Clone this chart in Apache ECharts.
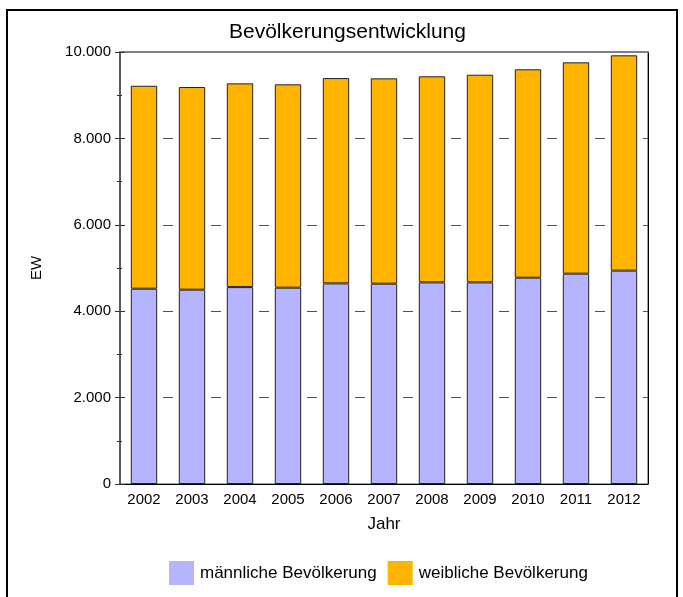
<!DOCTYPE html>
<html>
<head>
<meta charset="utf-8">
<script src="https://cdn.jsdelivr.net/npm/echarts@6/dist/echarts.min.js"></script>
<style>
  html, body { margin: 0; padding: 0; background: #fff; }
  #frame {
    position: absolute; left: 6px; top: 9px; width: 668px; height: 600px;
    border: 2px solid #000; border-bottom: none;
  }
  #chart { position: absolute; left: 0; top: 0; width: 683px; height: 597px; }
</style>
</head>
<body>
<div id="frame"></div>
<div id="chart"></div>
<script>
const years = ['2002', '2003', '2004', '2005', '2006', '2007', '2008', '2009', '2010', '2011', '2012']
const maleValues = [4521, 4498, 4558, 4544, 4644, 4637, 4667, 4667, 4776, 4869, 4939]
const femaleValues = [4698, 4691, 4716, 4707, 4753, 4753, 4770, 4807, 4823, 4892, 4984]
const yMax = 10000
const yStep = 2000

const MALE_COLOR = '#B4B4FF'
const FEMALE_COLOR = '#FFB400'
const FONT = '"Liberation Sans", Arial, sans-serif'

const fmt = (v) => v.toLocaleString('de-DE')

const chart = echarts.init(document.getElementById('chart'))

const option = {
  animation: false,
  textStyle: { fontFamily: FONT, color: '#000' },
  title: {
    text: 'Bevölkerungsentwicklung',
    left: 224,
    top: 17,
    textStyle: { fontFamily: FONT, fontSize: 21, fontWeight: 'normal', color: '#000' },
  },
  grid: {
    left: 120, right: 35, top: 52, bottom: 113,
    show: true, borderColor: '#444', borderWidth: 1,
  },
  legend: {
    left: 169,
    top: 561,
    padding: 0,
    itemWidth: 25,
    itemHeight: 24,
    itemGap: 11,
    icon: 'rect',
    textStyle: { fontFamily: FONT, fontSize: 17, color: '#000', padding: [0, 0, 0, 1] },
    data: [
      { name: 'männliche Bevölkerung', itemStyle: { borderWidth: 0 } },
      { name: 'weibliche Bevölkerung', itemStyle: { borderWidth: 0 } },
    ],
  },
  xAxis: [
    {
      type: 'category',
      data: years,
      name: 'Jahr',
      nameLocation: 'middle',
      nameGap: 32,
      nameTextStyle: { fontSize: 17, color: '#000' },
      axisLine: { onZero: false, lineStyle: { color: '#000', width: 1 } },
      axisTick: { length: 7, lineStyle: { color: '#000' } },
      axisLabel: { interval: 0, fontSize: 15, color: '#000', margin: 8 },
    },
    {
      type: 'category',
      data: years,
      position: 'bottom',
      axisLine: { show: false, onZero: false },
      axisTick: { inside: true, length: 6, lineStyle: { color: '#000' } },
      axisLabel: { show: false },
    },
    {
      type: 'category',
      data: years,
      position: 'top',
      axisLine: { onZero: false, lineStyle: { color: '#808080', width: 2 } },
      axisTick: { show: false },
      axisLabel: { show: false },
    },
  ],
  yAxis: [
    {
      type: 'value',
      min: 0,
      max: yMax,
      interval: yStep,
      name: 'EW',
      nameLocation: 'middle',
      nameGap: 76,
      nameTextStyle: { fontSize: 15, color: '#000' },
      axisLine: { show: true, onZero: false, lineStyle: { color: '#444', width: 1.5 } },
      axisTick: { show: true, length: 5, lineStyle: { color: '#333' } },
      minorTick: { show: true, splitNumber: 2, length: 3, lineStyle: { color: '#333' } },
      axisLabel: { fontSize: 15, color: '#000', margin: 9, formatter: fmt },
      splitLine: {
        show: true,
        lineStyle: { color: '#555', width: 1, type: [10, 38], dashOffset: 5 },
      },
    },
    {
      type: 'value',
      min: 0,
      max: yMax,
      interval: yStep,
      position: 'left',
      axisLine: { show: false, onZero: false },
      axisTick: { show: true, inside: true, length: 5, lineStyle: { color: '#333' } },
      minorTick: { show: true, splitNumber: 2, length: 2, lineStyle: { color: '#333' } },
      axisLabel: { show: false },
      splitLine: { show: false },
    },
    {
      type: 'value',
      min: 0,
      max: yMax,
      interval: yStep,
      position: 'right',
      axisLine: { show: true, onZero: false, lineStyle: { color: '#000', width: 1 } },
      axisTick: { show: false },
      axisLabel: { show: false },
      splitLine: { show: false },
    },
  ],
  series: [
    {
      name: 'männliche Bevölkerung',
      type: 'bar',
      stack: 'ew',
      barWidth: '55%',
      data: maleValues,
      itemStyle: { color: MALE_COLOR, borderColor: '#222', borderWidth: 1 },
    },
    {
      name: 'weibliche Bevölkerung',
      type: 'bar',
      stack: 'ew',
      barWidth: '55%',
      data: femaleValues,
      itemStyle: { color: FEMALE_COLOR, borderColor: '#222', borderWidth: 1 },
    },
  ],
}

chart.setOption(option)
</script>
</body>
</html>
